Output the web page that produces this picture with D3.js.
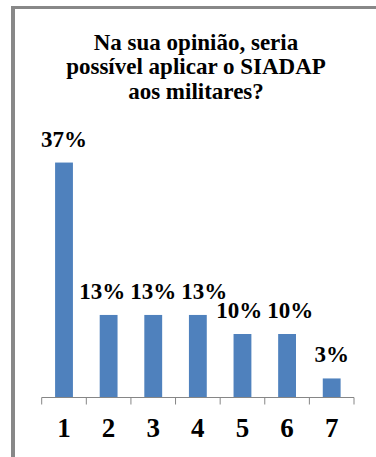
<!DOCTYPE html>
<html>
<head>
<meta charset="utf-8">
<script src="https://cdn.jsdelivr.net/npm/d3@7/dist/d3.min.js"></script>
<style>
  html, body { margin: 0; padding: 0; background: #fff; }
  svg { display: block; }
</style>
</head>
<body>
<svg id="chart" width="376" height="457"></svg>
<script>
// Survey answers: share of respondents per option
const categories = ["1", "2", "3", "4", "5", "6", "7"];
const values = [37, 13, 13, 13, 10, 10, 3];
const titleLines = ["Na sua opinião, seria", "possível aplicar o SIADAP", "aos militares?"];

const FONT = "'Liberation Serif', 'Times New Roman', Times, serif";
const W = 376, H = 457;
const svg = d3.select("#chart");

// Chart frame (left and top edges visible)
svg.append("rect").attr("x", 11).attr("y", 6).attr("width", 4).attr("height", H - 6).attr("fill", "#888");
svg.append("rect").attr("x", 11).attr("y", 6).attr("width", W - 11).attr("height", 3).attr("fill", "#888");

// Title
svg.append("text")
  .attr("text-anchor", "middle")
  .attr("font-family", FONT)
  .attr("font-weight", "bold")
  .attr("font-size", 23)
  .selectAll("tspan")
  .data(titleLines)
  .join("tspan")
  .attr("x", 196)
  .attr("y", (d, i) => 49.5 + i * 24.8)
  .text(d => d);

const left = 41.7, right = 354, base = 397.5;

const x = d3.scaleBand()
  .domain(categories)
  .range([left, right])
  .paddingInner(0.6)
  .paddingOuter(0.3);

const y = d3.scaleLinear()
  .domain([0, 40])
  .range([base, base - 254]);

// Bars
svg.append("g")
  .selectAll("rect")
  .data(values)
  .join("rect")
  .attr("x", (d, i) => x(categories[i]))
  .attr("y", d => y(d))
  .attr("width", x.bandwidth())
  .attr("height", d => y(0) - y(d))
  .attr("fill", "#4F81BD");

// Category axis: baseline with tick marks between categories
const axis = svg.append("g").attr("transform", `translate(0,${base})`);
axis.call(d3.axisBottom(x).tickSize(0).tickPadding(0))
  .call(g => g.select(".domain").remove())
  .attr("font-family", FONT)
  .attr("font-weight", "bold")
  .attr("font-size", 27);
axis.selectAll(".tick text")
  .attr("y", 39.5)
  .attr("dy", null)
  .attr("fill", "#000");

axis.append("line")
  .attr("x1", left).attr("x2", right)
  .attr("y1", 0).attr("y2", 0)
  .attr("stroke", "#868686").attr("stroke-width", 1);

const offset = (x.step() - x.bandwidth()) / 2;
const boundaries = categories.map(c => x(c) - offset).concat([x(categories[categories.length - 1]) + x.bandwidth() + offset]);
axis.selectAll("line.tickmark")
  .data(boundaries)
  .join("line")
  .attr("class", "tickmark")
  .attr("x1", d => d).attr("x2", d => d)
  .attr("y1", 0).attr("y2", 7)
  .attr("stroke", "#868686").attr("stroke-width", 1);

// Value labels above bars
const labels = svg.append("g")
  .attr("font-family", FONT)
  .attr("font-weight", "bold")
  .attr("font-size", 23)
  .selectAll("text")
  .data(values)
  .join("text")
  .attr("text-anchor", "middle")
  .attr("x", (d, i) => x(categories[i]) + x.bandwidth() / 2)
  .attr("y", d => y(d) - 16)
  .text(d => d + "%");

// Spread apart labels that collide on the same row
const boxes = labels.nodes().map(n => {
  const w = n.getComputedTextLength();
  return { node: n, cx: +n.getAttribute("x"), w, y: +n.getAttribute("y") };
});
const gap = 5;
for (let iter = 0; iter < 30; iter++) {
  for (let i = 0; i < boxes.length - 1; i++) {
    const a = boxes[i], b = boxes[i + 1];
    if (Math.abs(a.y - b.y) > 14) continue;
    const need = (a.w + b.w) / 2 + gap - (b.cx - a.cx);
    if (need > 0) { a.cx -= need / 2; b.cx += need / 2; }
  }
}
boxes.forEach(b => b.node.setAttribute("x", b.cx));
</script>
</body>
</html>
